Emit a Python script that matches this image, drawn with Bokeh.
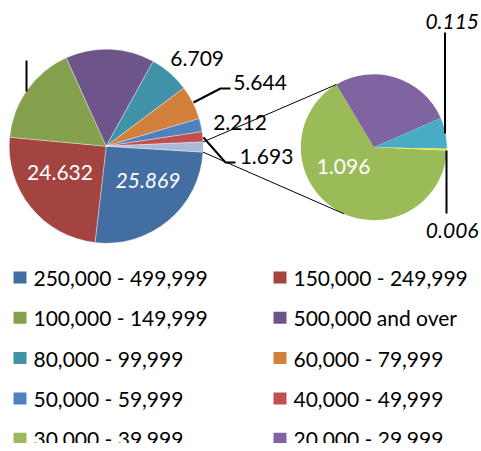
import math
from bokeh.plotting import figure
from bokeh.models import Range1d
from bokeh.core.properties import value
from bokeh.embed import file_html
from bokeh.resources import INLINE

# ---------------- data ----------------
main_categories = ["250,000 - 499,999", "150,000 - 249,999", "100,000 - 149,999",
                   "500,000 and over", "80,000 - 99,999", "60,000 - 79,999",
                   "50,000 - 59,999", "40,000 - 49,999"]
main_values = [25.869, 24.632, 16.774, 14.800, 6.709, 5.644, 2.212, 1.693]
main_colors = ["#436EA1", "#A34441", "#84A04C", "#6D558A", "#4092A8", "#D2803C",
               "#4F81BD", "#C0504D"]
other_color = "#A9BBD9"

sec_categories = ["30,000 - 39,999", "20,000 - 29,999", "10,000 - 19,999", "Under 10,000"]
sec_values = [1.096, 0.450, 0.115, 0.006]
sec_colors = ["#9BBB59", "#8064A2", "#4BACC6", "#EDE84A"]

# ---------------- layout ----------------
W, H = 481, 443
def X(px):  # picture px -> data x
    return px
def Y(py):  # picture px -> data y
    return H - py

FONT = "Lato"
FS = "21px"

p = figure(width=W, height=H, output_backend="svg", toolbar_location=None,
           x_range=Range1d(0, W), y_range=Range1d(0, H), min_border=0)
p.axis.visible = False
p.grid.visible = False
p.outline_line_color = None
p.background_fill_color = "white"

# main pie
mcx, mcy, mr = X(105.7), Y(145.7), 97
other_total = sum(sec_values)
total = sum(main_values) + other_total
rot = math.radians(-0.5)
oa = 2 * math.pi * other_total / total
edge = rot - oa / 2
starts, ends = [], []
for v in main_values:
    a = 2 * math.pi * v / total
    ends.append(edge)
    starts.append(edge - a)
    edge -= a
p.wedge(x=mcx, y=mcy, radius=mr, start_angle=starts, end_angle=ends,
        fill_color=main_colors, line_color="#F4F4F4", line_width=0.4)
p.wedge(x=mcx, y=mcy, radius=mr, start_angle=rot - oa / 2, end_angle=rot + oa / 2,
        fill_color=other_color, line_color="#F4F4F4", line_width=0.4)

# secondary pie
scx, scy, sr = X(373.3), Y(146.7), 73
sedge = math.radians(-2.5)
s_starts, s_ends = [], []
for v in sec_values:
    a = 2 * math.pi * v / other_total
    s_ends.append(sedge)
    s_starts.append(sedge - a)
    sedge -= a
p.wedge(x=scx, y=scy, radius=sr, start_angle=s_starts, end_angle=s_ends,
        fill_color=sec_colors, line_color=None)

# connector lines
top_sec = math.radians(120.8)
bot_sec = math.radians(245.8)
p.segment(x0=[mcx + mr * math.cos(rot + oa / 2), mcx + mr * math.cos(rot - oa / 2)],
          y0=[mcy + mr * math.sin(rot + oa / 2), mcy + mr * math.sin(rot - oa / 2)],
          x1=[scx + sr * math.cos(top_sec), scx + sr * math.cos(bot_sec)],
          y1=[scy + sr * math.sin(top_sec), scy + sr * math.sin(bot_sec)],
          line_color="black", line_width=1)

# leader lines
leaders = [
    [(26, 60), (26, 91)],
    [(193, 102), (220, 88), (230, 88)],
    [(203, 137), (225, 162), (235, 162)],
    [(444.5, 32), (444.5, 133)],
    [(446, 150), (446, 213)],
]
p.multi_line(xs=[[X(a) for a, b in L] for L in leaders],
             ys=[[Y(b) for a, b in L] for L in leaders],
             line_color="black", line_width=2)

# data labels
def fmt(v):
    return f"{v:.3f}"

labels = [
    (fmt(main_values[0]), 147.5, 180, "white", "italic"),
    (fmt(main_values[1]), 59.5, 172, "white", "normal"),
    (fmt(main_values[4]), 196.7, 57.5, "black", "normal"),
    (fmt(main_values[5]), 259.5, 82, "black", "normal"),
    (fmt(main_values[6]), 239.5, 122, "black", "normal"),
    (fmt(main_values[7]), 266, 156, "black", "normal"),
    (fmt(sec_values[0]), 343, 166, "white", "normal"),
    (fmt(sec_values[2]), 451.7, 21, "black", "italic"),
    (fmt(sec_values[3]), 451.7, 230, "black", "italic"),
]
for t, lx, ly, c, st in labels:
    p.text(x=[X(lx)], y=[Y(ly)], text=[t], text_color=c, text_font=value(FONT),
           text_font_size=FS, text_font_style=st, text_align="center",
           text_baseline="middle")

# legend (manual, two columns)
leg_names = main_categories + sec_categories[:2]
leg_colors = main_colors + sec_colors[:2]
col_x = [13, 273]
row_y0, row_dy = 277, 40.3
for i, (n, c) in enumerate(zip(leg_names, leg_colors)):
    cx = col_x[i % 2]
    cy = row_y0 + row_dy * (i // 2)
    p.rect(x=[X(cx + 6.5)], y=[Y(cy)], width=13, height=12, fill_color=c, line_color=None)
    p.text(x=[X(cx + 20)], y=[Y(cy)], text=[n], text_color="black", text_font=value(FONT),
           text_font_size=FS, text_align="left", text_baseline="middle")

open("out.html", "w").write(file_html(p, INLINE))
